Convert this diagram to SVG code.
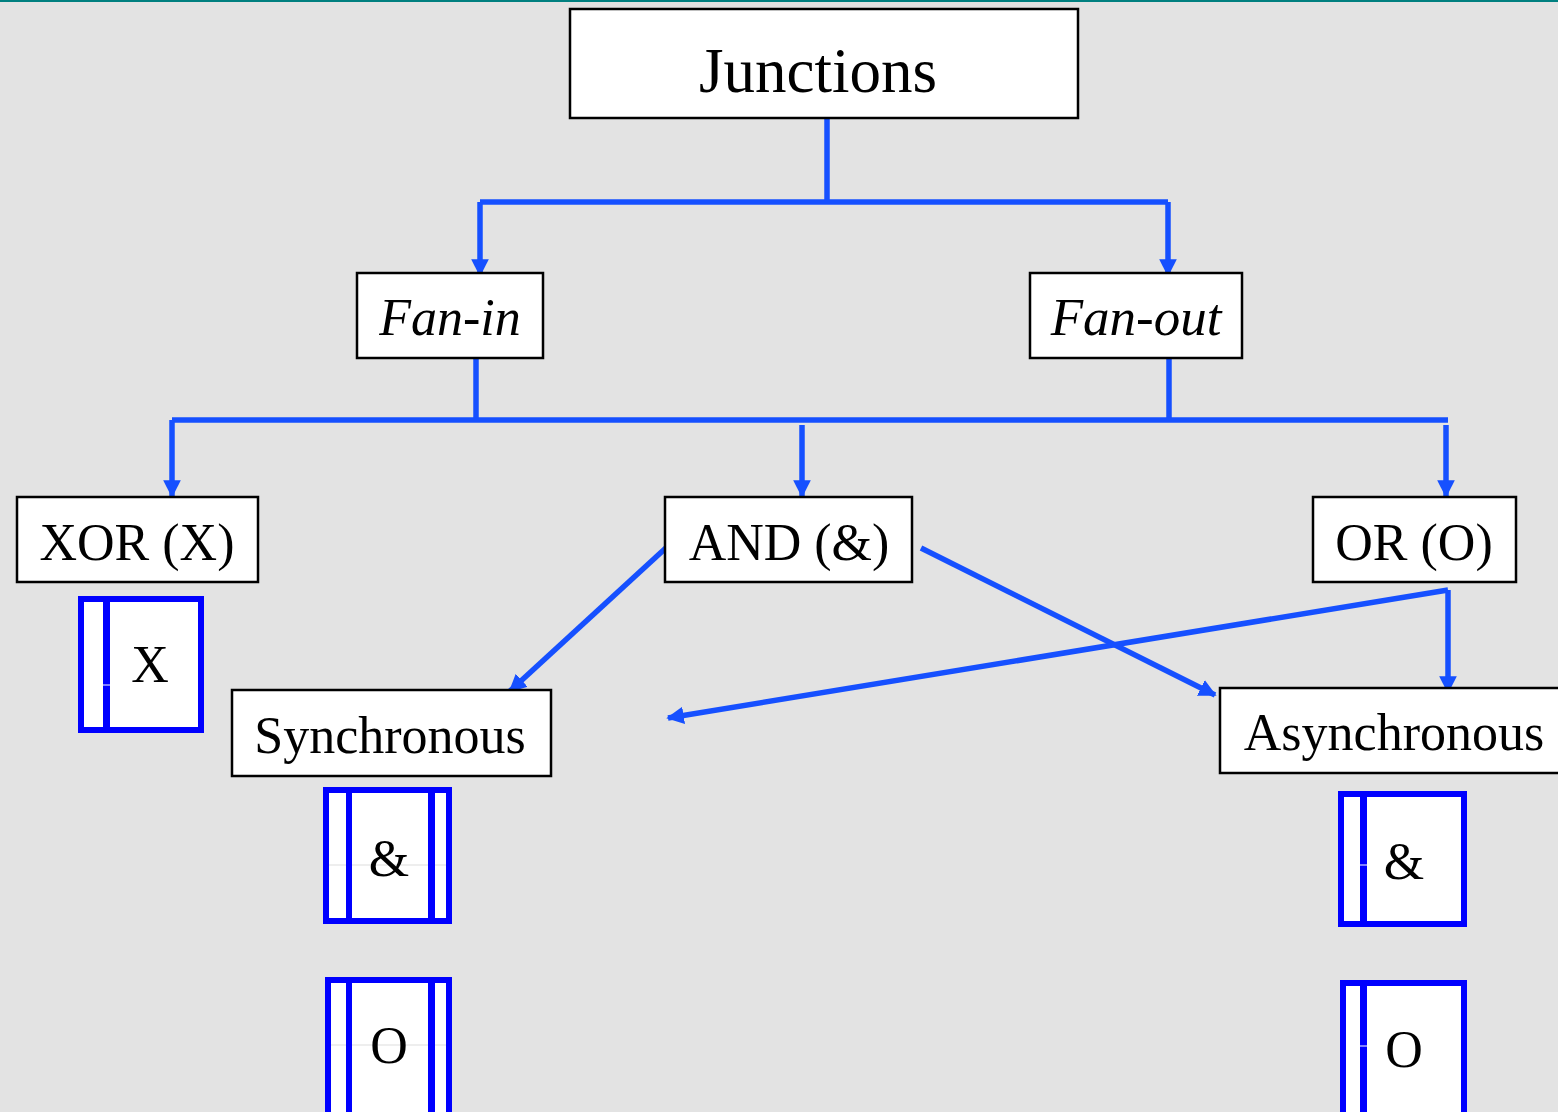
<svg xmlns="http://www.w3.org/2000/svg" width="1558" height="1112" viewBox="0 0 1558 1112">
  <style>
    .box { fill: #ffffff; stroke: #000000; stroke-width: 2.5; }
    .lbl { font-family: "Liberation Serif", "Times New Roman", serif; fill: #000000; text-anchor: middle; }
    .it { font-style: italic; }
    .wire { fill: none; stroke: #1650ff; stroke-width: 5.5; }
    .gate { fill: #ffffff; stroke: #0000ff; stroke-width: 6; }
    .bar { fill: #0000ff; }
    .tick { stroke: #ffffff; stroke-width: 1; }
    .mid { stroke: #dddddd; stroke-width: 1; }
  </style>
  <defs>
    <marker id="arrow" viewBox="0 0 10 10" refX="9" refY="5" markerWidth="3.2" markerHeight="3.2" orient="auto" markerUnits="strokeWidth">
      <path d="M0,0 L10,5 L0,10 Z" fill="#1650ff"/>
    </marker>
  </defs>

  <rect x="0" y="0" width="1558" height="1112" fill="#e3e3e3"/>
  <rect x="0" y="0" width="1558" height="2" fill="#008080"/>

  <!-- connectors -->
  <g id="connectors">
    <path class="wire" d="M827,118 V202"/>
    <path class="wire" d="M480,202 H1168"/>
    <path class="wire" d="M480,202 V275" marker-end="url(#arrow)"/>
    <path class="wire" d="M1168,202 V275" marker-end="url(#arrow)"/>
    <path class="wire" d="M476,358 V420"/>
    <path class="wire" d="M1169,358 V420"/>
    <path class="wire" d="M172,420 H1448"/>
    <path class="wire" d="M172,420 V496" marker-end="url(#arrow)"/>
    <path class="wire" d="M802,425 V496" marker-end="url(#arrow)"/>
    <path class="wire" d="M1446,425 V496" marker-end="url(#arrow)"/>
    <path class="wire" d="M668,546 L510,691" marker-end="url(#arrow)"/>
    <path class="wire" d="M921,548 L1215,695" marker-end="url(#arrow)"/>
    <path class="wire" d="M1448,590 V692" marker-end="url(#arrow)"/>
    <path class="wire" d="M1448,590 L668,718" marker-end="url(#arrow)"/>
  </g>

  <g id="junctions">
    <rect class="box" x="570" y="9" width="508" height="109"/>
    <text class="lbl" x="818" y="92" font-size="63">Junctions</text>
  </g>

  <g id="fan-in">
    <rect class="box" x="357" y="273" width="186" height="85"/>
    <text class="lbl it" x="450" y="335" font-size="52">Fan-in</text>
  </g>

  <g id="fan-out">
    <rect class="box" x="1030" y="273" width="212" height="85"/>
    <text class="lbl it" x="1136" y="335" font-size="53">Fan-out</text>
  </g>

  <g id="xor">
    <rect class="box" x="17" y="497" width="241" height="85"/>
    <text class="lbl" x="137" y="560" font-size="52">XOR (X)</text>
  </g>

  <g id="and">
    <rect class="box" x="665" y="497" width="247" height="85"/>
    <text class="lbl" x="789" y="560" font-size="52">AND (&amp;)</text>
  </g>

  <g id="or">
    <rect class="box" x="1313" y="497" width="203" height="85"/>
    <text class="lbl" x="1414" y="560" font-size="52">OR (O)</text>
  </g>

  <g id="synchronous">
    <rect class="box" x="232" y="690" width="319" height="86"/>
    <text class="lbl" x="390" y="753" font-size="52">Synchronous</text>
  </g>

  <g id="asynchronous">
    <rect class="box" x="1220" y="688" width="345" height="85"/>
    <text class="lbl" x="1394" y="750" font-size="52">Asynchronous</text>
  </g>

  <!-- gate symbols -->
  <g id="gate-xor">
    <rect class="gate" x="81" y="599" width="120" height="131"/>
    <rect class="bar" x="103" y="599" width="7" height="131"/>
    <line class="tick" x1="103" y1="685" x2="110" y2="685"/>
    <text class="lbl" x="150" y="682" font-size="52">X</text>
  </g>

  <g id="gate-sync-and">
    <rect class="gate" x="326" y="790" width="123" height="131"/>
    <line class="mid" x1="329" y1="865" x2="446" y2="865"/>
    <rect class="bar" x="346" y="790" width="6" height="131"/>
    <rect class="bar" x="428" y="790" width="7" height="131"/>
    <text class="lbl" x="389" y="876" font-size="52">&amp;</text>
  </g>

  <g id="gate-sync-or">
    <rect class="gate" x="328" y="980" width="121" height="140"/>
    <line class="mid" x1="331" y1="1045" x2="446" y2="1045"/>
    <rect class="bar" x="346" y="980" width="6" height="140"/>
    <rect class="bar" x="428" y="980" width="7" height="140"/>
    <text class="lbl" x="389" y="1063" font-size="52">O</text>
  </g>

  <g id="gate-async-and">
    <rect class="gate" x="1341" y="794" width="123" height="130"/>
    <rect class="bar" x="1360" y="794" width="7" height="130"/>
    <line class="tick" x1="1360" y1="865" x2="1367" y2="865"/>
    <text class="lbl" x="1404" y="879" font-size="52">&amp;</text>
  </g>

  <g id="gate-async-or">
    <rect class="gate" x="1343" y="983" width="121" height="140"/>
    <rect class="bar" x="1360" y="983" width="7" height="140"/>
    <line class="tick" x1="1360" y1="1046" x2="1367" y2="1046"/>
    <text class="lbl" x="1404" y="1067" font-size="52">O</text>
  </g>
</svg>
